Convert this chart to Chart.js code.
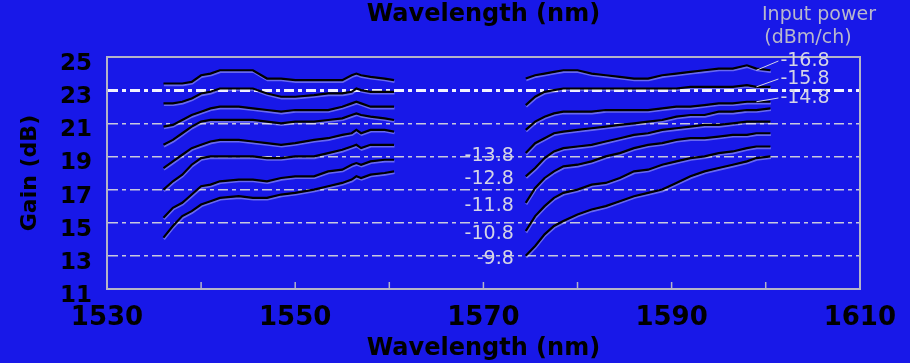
<!DOCTYPE html>
<html>
<head>
<meta charset="utf-8">
<script src="https://cdn.jsdelivr.net/npm/chart.js@4.4.0/dist/chart.umd.min.js"></script>
<style>
  html, body { margin: 0; padding: 0; background: #1818e8; }
  #wrap { width: 910px; height: 363px; }
</style>
</head>
<body>
<div id="wrap"><canvas id="gainChart" width="910" height="363"></canvas></div>
<script>
// wavelengths (nm) sampled in the C and L bands
const bandC = [1536, 1537, 1538, 1539, 1540, 1541, 1542, 1544, 1545.5, 1547, 1548.5, 1550, 1552, 1553.5, 1555, 1556, 1556.5, 1557, 1558, 1559.5, 1560.5];
const bandL = [1574.5, 1575.5, 1576.5, 1577.5, 1578.5, 1580, 1581.5, 1583, 1584.5, 1586, 1587.5, 1589, 1590.5, 1592, 1593.5, 1595, 1596.5, 1598, 1599, 1600.5];

// input power per channel (dBm/ch)
const powers = [-9.8, -10.8, -11.8, -12.8, -13.8, -14.8, -15.8, -16.8];

// gain (dB), C band
const gainC_98  = [14.1, 14.8, 15.4, 15.7, 16.1, 16.3, 16.5, 16.6, 16.5, 16.5, 16.7, 16.8, 17.0, 17.2, 17.4, 17.6, 17.8, 17.7, 17.9, 18.0, 18.1];
const gainC_108 = [15.3, 15.9, 16.2, 16.7, 17.2, 17.3, 17.5, 17.6, 17.6, 17.5, 17.7, 17.8, 17.8, 18.1, 18.2, 18.5, 18.6, 18.5, 18.7, 18.8, 18.8];
const gainC_118 = [17.0, 17.5, 17.9, 18.5, 18.9, 19.0, 19.0, 19.0, 19.0, 18.9, 18.9, 19.0, 19.0, 19.2, 19.4, 19.6, 19.7, 19.5, 19.7, 19.7, 19.7];
const gainC_128 = [18.3, 18.7, 19.1, 19.5, 19.7, 19.9, 20.0, 20.0, 19.9, 19.8, 19.7, 19.8, 20.0, 20.1, 20.3, 20.4, 20.6, 20.4, 20.6, 20.6, 20.5];
const gainC_138 = [19.7, 20.0, 20.4, 20.8, 21.1, 21.2, 21.2, 21.2, 21.2, 21.1, 21.0, 21.1, 21.1, 21.2, 21.3, 21.5, 21.6, 21.5, 21.4, 21.3, 21.2];
const gainC_148 = [20.8, 20.9, 21.2, 21.5, 21.7, 21.9, 22.0, 22.0, 21.9, 21.8, 21.7, 21.8, 21.8, 21.8, 22.0, 22.2, 22.3, 22.2, 22.0, 22.0, 22.0];
const gainC_158 = [22.2, 22.2, 22.3, 22.5, 22.8, 22.9, 23.1, 23.1, 23.1, 22.8, 22.6, 22.6, 22.7, 22.8, 22.8, 22.9, 23.1, 23.0, 22.9, 22.9, 22.9];
const gainC_168 = [23.4, 23.4, 23.4, 23.5, 23.9, 24.0, 24.2, 24.2, 24.2, 23.7, 23.7, 23.6, 23.6, 23.6, 23.6, 23.9, 24.0, 23.9, 23.8, 23.7, 23.6];

// gain (dB), L band
const gainL_98  = [13.0, 13.6, 14.3, 14.8, 15.1, 15.5, 15.8, 16.0, 16.3, 16.6, 16.8, 17.0, 17.4, 17.8, 18.1, 18.3, 18.5, 18.7, 18.9, 19.0];
const gainL_108 = [14.5, 15.4, 16.0, 16.5, 16.8, 17.0, 17.3, 17.4, 17.7, 18.1, 18.2, 18.5, 18.7, 18.9, 19.0, 19.2, 19.3, 19.5, 19.6, 19.6];
const gainL_118 = [16.2, 17.1, 17.7, 18.1, 18.4, 18.5, 18.7, 19.0, 19.2, 19.5, 19.7, 19.8, 20.0, 20.1, 20.1, 20.2, 20.3, 20.3, 20.4, 20.4];
const gainL_128 = [17.8, 18.3, 18.9, 19.3, 19.5, 19.6, 19.7, 19.9, 20.1, 20.3, 20.4, 20.6, 20.7, 20.8, 20.9, 20.9, 21.0, 21.1, 21.1, 21.1];
const gainL_138 = [19.2, 19.8, 20.1, 20.4, 20.5, 20.6, 20.7, 20.8, 20.9, 21.0, 21.1, 21.2, 21.4, 21.5, 21.5, 21.7, 21.7, 21.8, 21.8, 21.9];
const gainL_148 = [20.6, 21.1, 21.4, 21.6, 21.7, 21.7, 21.7, 21.8, 21.8, 21.8, 21.8, 21.9, 22.0, 22.0, 22.1, 22.2, 22.2, 22.3, 22.3, 22.3];
const gainL_158 = [22.1, 22.6, 22.9, 23.0, 23.1, 23.1, 23.1, 23.1, 23.1, 23.1, 23.1, 23.1, 23.1, 23.2, 23.2, 23.2, 23.2, 23.3, 23.2, 23.2];
const gainL_168 = [23.7, 23.9, 24.0, 24.1, 24.2, 24.2, 24.0, 23.9, 23.8, 23.7, 23.7, 23.9, 24.0, 24.1, 24.2, 24.3, 24.3, 24.5, 24.3, 24.2];

const gainC = [gainC_98, gainC_108, gainC_118, gainC_128, gainC_138, gainC_148, gainC_158, gainC_168];
const gainL = [gainL_98, gainL_108, gainL_118, gainL_128, gainL_138, gainL_148, gainL_158, gainL_168];

// axis ranges
const xRange = [1530, 1610];
const yRange = [11, 25];
const minorTicks = [1540, 1550, 1560, 1570, 1580, 1590, 1600];

const TICK_FONT = '"DejaVu Sans", sans-serif';

// one dataset per input power, with a gap between the two bands
const datasets = powers.map((p, i) => {
  const pts = bandC.map((w, j) => ({ x: w, y: gainC[i][j] }));
  pts.push({ x: 1567, y: null });
  bandL.forEach((w, j) => pts.push({ x: w, y: gainL[i][j] }));
  return {
    label: p.toFixed(1),
    data: pts,
    borderColor: "#000000",
    borderWidth: 2.2,
    pointRadius: 0,
    tension: 0,
    spanGaps: false,
    fill: false
  };
});

// faint light edge under every curve
const lineHalo = {
  id: "lineHalo",
  beforeDatasetDraw(chart) {
    const ctx = chart.ctx;
    ctx.save();
    ctx.shadowColor = "rgba(225,225,255,0.4)";
    ctx.shadowOffsetX = 0.5;
    ctx.shadowOffsetY = 1.6;
    ctx.shadowBlur = 0;
  },
  afterDatasetDraw(chart) {
    chart.ctx.restore();
  }
};

// small inward ticks along the wavelength axis
const innerTicks = {
  id: "innerTicks",
  afterDraw(chart) {
    const { ctx, chartArea, scales: { x } } = chart;
    ctx.save();
    ctx.strokeStyle = "#b4b4c8";
    ctx.lineWidth = 1.5;
    minorTicks.forEach(v => {
      const px = x.getPixelForValue(v);
      ctx.beginPath();
      ctx.moveTo(px, chartArea.bottom);
      ctx.lineTo(px, chartArea.bottom - 7);
      ctx.stroke();
    });
    ctx.restore();
  }
};

// input power labels and header
const powerLabels = {
  id: "powerLabels",
  afterDraw(chart) {
    const { ctx, chartArea, scales: { x, y } } = chart;
    ctx.save();
    ctx.fillStyle = "#d4d4e6";
    ctx.textBaseline = "middle";
    ctx.font = '19px ' + TICK_FONT;

    // -9.8 ... -13.8 sit left of where each L-band curve starts
    ctx.textAlign = "right";
    for (let i = 0; i < 5; i++) {
      const px = x.getPixelForValue(bandL[0]) - 12;
      const py = y.getPixelForValue(gainL[i][0]) + 3;
      ctx.fillText(powers[i].toFixed(1), px, py);
    }

    // -14.8 ... -16.8 stacked at the right end with short leaders
    const last = bandL.length - 1;
    const lx = x.getPixelForValue(bandL[last]) + 10;
    const rowY = [chartArea.top + 41, chartArea.top + 22, chartArea.top + 4];
    ctx.textAlign = "left";
    ctx.strokeStyle = "#d4d4e6";
    ctx.lineWidth = 1;
    for (let k = 0; k < 3; k++) {
      const i = 5 + k;
      const ex = x.getPixelForValue(bandL[last]);
      const ey = y.getPixelForValue(gainL[i][last]);
      ctx.beginPath();
      ctx.moveTo(ex - 14, ey);
      ctx.lineTo(lx - 2, rowY[k]);
      ctx.stroke();
      ctx.fillText(powers[i].toFixed(1), lx, rowY[k]);
    }

    ctx.fillStyle = "#b8b8cc";
    ctx.font = '19px ' + TICK_FONT;
    ctx.textAlign = "center";
    ctx.fillText("Input power", 819, 15);
    ctx.fillText("(dBm/ch)", 808, 38);
    ctx.restore();
  }
};

const borderColor = "#b4b4c8";

new Chart(document.getElementById("gainChart"), {
  type: "line",
  data: { datasets: datasets },
  plugins: [lineHalo, innerTicks, powerLabels],
  options: {
    responsive: false,
    animation: false,
    layout: { padding: 0 },
    plugins: {
      legend: { display: false },
      tooltip: { enabled: false }
    },
    scales: {
      x: {
        type: "linear",
        position: "bottom",
        min: xRange[0],
        max: xRange[1],
        afterFit: s => { s.height = 74; },
        ticks: {
          stepSize: 20,
          padding: 14,
          color: "#000",
          callback: v => String(v),
          font: { family: TICK_FONT, size: 26, weight: "bold" }
        },
        grid: { display: false, drawTicks: false },
        border: { display: true, color: borderColor, width: 2 },
        title: {
          display: true,
          text: "Wavelength (nm)",
          color: "#000",
          padding: { top: 0, bottom: 0 },
          font: { family: TICK_FONT, size: 24, weight: "bold" }
        }
      },
      xTop: {
        type: "linear",
        position: "top",
        min: xRange[0],
        max: xRange[1],
        afterFit: s => { s.height = 57; },
        ticks: { display: false },
        grid: { display: false, drawTicks: false },
        border: { display: true, color: borderColor, width: 2 },
        title: {
          display: true,
          text: "Wavelength (nm)",
          color: "#000",
          padding: { top: 0, bottom: 0 },
          font: { family: TICK_FONT, size: 24, weight: "bold" }
        }
      },
      y: {
        min: yRange[0],
        max: yRange[1],
        afterFit: s => { s.width = 107; },
        ticks: {
          stepSize: 2,
          padding: 15,
          labelOffset: 7,
          color: "#000",
          font: { family: TICK_FONT, size: 23, weight: "bold" }
        },
        grid: {
          drawTicks: false,
          color: c => (c.tick.value === 11 || c.tick.value === 25) ? "rgba(0,0,0,0)"
            : c.tick.value === 23 ? "#f2f2ff" : "#c8c8de",
          lineWidth: c => c.tick.value === 23 ? 3 : 1.5
        },
        border: { display: true, color: borderColor, width: 2, dash: [10, 4, 4, 4] },
        title: {
          display: true,
          text: "Gain (dB)",
          color: "#000",
          padding: { top: 17, bottom: 0 },
          font: { family: TICK_FONT, size: 22, weight: "bold" }
        }
      },
      yRight: {
        position: "right",
        min: yRange[0],
        max: yRange[1],
        afterFit: s => { s.width = 48; },
        ticks: { display: false },
        grid: { display: false, drawTicks: false },
        border: { display: true, color: borderColor, width: 2 }
      }
    }
  }
});
</script>
</body>
</html>
